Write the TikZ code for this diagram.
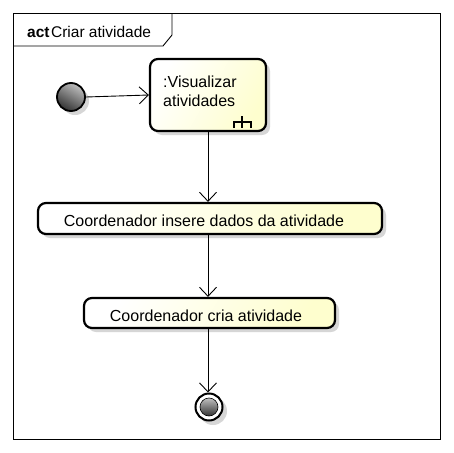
\documentclass[tikz,border=0pt]{standalone}
\usepackage{fontspec}
\setmainfont{Liberation Sans}
\usetikzlibrary{shadows,arrows.meta}
\definecolor{actfill}{RGB}{254,254,206}
\definecolor{shadowgray}{RGB}{214,214,214}
\tikzset{
  action/.style={draw=black, line width=2.2pt, rounded corners=8pt,
    left color=white, right color=actfill, shading angle=60,
    drop shadow={shadow xshift=4pt, shadow yshift=-4pt, fill=shadowgray, opacity=1},
    inner sep=0pt},
  flow/.style={draw=black, line width=0.9pt, -{Straight Barb[length=9pt,width=17pt,line width=0.9pt]}},
  lbl/.style={font=\fontsize{16}{19}\selectfont, inner sep=0pt, anchor=base west},
  ctr/.style={font=\fontsize{16}{19}\selectfont, inner sep=0pt, anchor=base},
  rake/.style={line width=2pt}
}
\begin{document}
\begin{tikzpicture}[x=1pt,y=-1pt]
\useasboundingbox (0,0) rectangle (453,453);
\fill[white] (0,0) rectangle (453,453);
% frame
\draw[line width=0.9pt] (13,13) rectangle (440,439);
\draw[line width=0.9pt] (13,46) -- (163,46) -- (172,35) -- (172,13);
\node[lbl, font=\fontsize{15.5}{18}\selectfont] (title) at (27,37) {\textbf{act}\hspace{1.5pt}Criar atividade};
% initial node
\fill[shadowgray] (75,101) circle (14);
\node[circle, draw=black, line width=1.8pt, minimum size=28pt, inner sep=0pt,
  top color=gray!50, bottom color=black!80, shading angle=-30] (init) at (71,97) {};
% call behavior action
\node[action, minimum width=116pt, minimum height=72pt] (vis) at (208,95) {};
\node[lbl] (vistxt1) at (163,87) {:Visualizar};
\node[lbl] (vistxt2) at (163,106) {atividades};
\draw[rake] (242,116) -- (242,128);
\draw[rake] (234,128) -- (234,122) -- (251,122) -- (251,128);
% actions
\node[action, minimum width=344pt, minimum height=31pt] (ins) at (210,218.5) {};
\node[ctr] (instxt) at (204,226) {Coordenador insere dados da atividade};
\node[action, minimum width=251pt, minimum height=30pt] (cria) at (209.5,313) {};
\node[ctr] (criatxt) at (206,321) {Coordenador cria atividade};
% final node
\fill[shadowgray] (213,411) circle (14);
\node[circle, draw=black, line width=2pt, fill=white, minimum size=27pt, inner sep=0pt] (fin) at (209,407) {};
\node[circle, draw=black, line width=0.6pt, minimum size=18pt, inner sep=0pt,
  top color=gray!50, bottom color=black!80] (fininner) at (fin.center) {};
% flows
\draw[flow] (init.east) -- (vis.west);
\draw[flow] (vis.south -| 208,0) -- (ins.north -| 208,0);
\draw[flow] (ins.south -| 208,0) -- (cria.north -| 208,0);
\draw[flow] (cria.south -| 208,0) -- (fin.north -| 208,0);
\end{tikzpicture}
\end{document}
